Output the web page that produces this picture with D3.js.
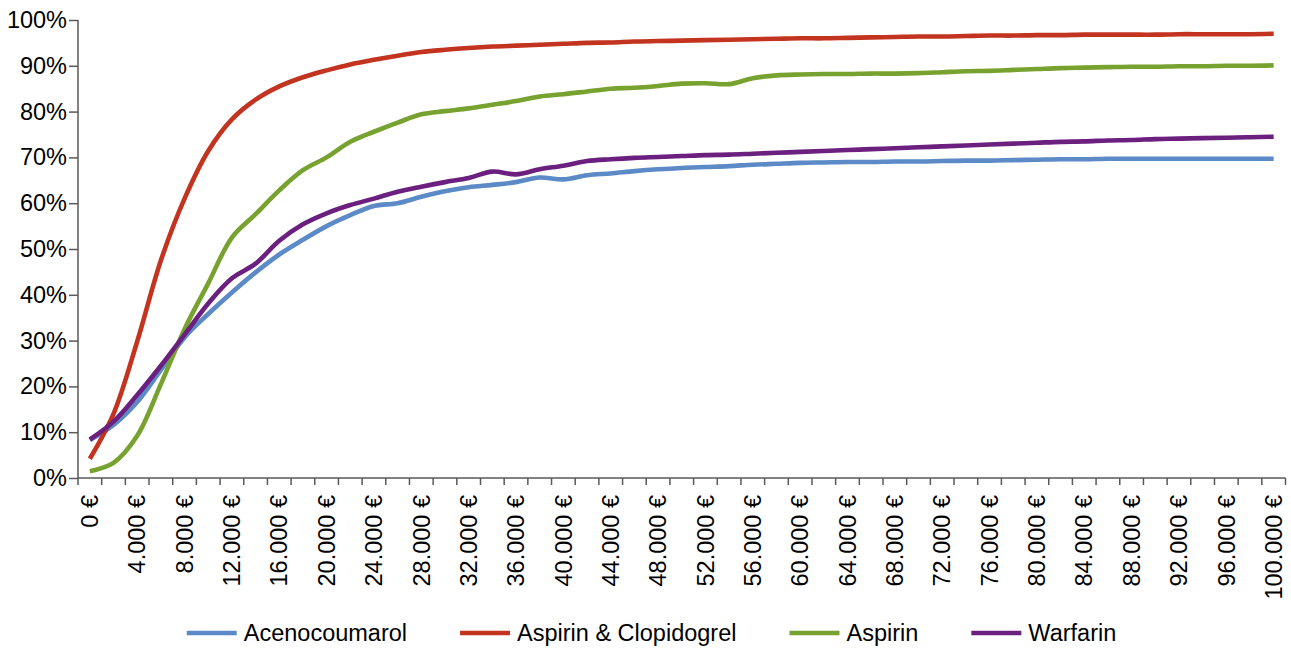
<!DOCTYPE html>
<html>
<head>
<meta charset="utf-8">
<script src="https://cdn.jsdelivr.net/npm/d3@7"></script>
<style>
  html, body { margin: 0; padding: 0; background: #fff; }
  svg { display: block; }
  text { font-family: "Liberation Sans", Arial, sans-serif; fill: #000; }
</style>
</head>
<body>
<svg id="chart" width="1291" height="648"></svg>
<script>
// ---- data ----
const categories = [0,2000,4000,6000,8000,10000,12000,14000,16000,18000,20000,22000,24000,26000,28000,30000,32000,34000,36000,38000,40000,42000,44000,46000,48000,50000,52000,54000,56000,58000,60000,62000,64000,66000,68000,70000,72000,74000,76000,78000,80000,82000,84000,86000,88000,90000,92000,94000,96000,98000,100000];

const seriesNames = ["Acenocoumarol", "Aspirin & Clopidogrel", "Aspirin", "Warfarin"];
const seriesColors = ["#5B8AC7", "#C2341F", "#78A22F", "#6B1F7E"];

const acenocoumarol = [8.3,11.6,16.6,23.6,30.7,35.8,40.5,44.9,48.8,52.0,55.0,57.4,59.4,60.0,61.4,62.6,63.5,64.0,64.6,65.6,65.2,66.1,66.5,67.0,67.4,67.7,67.9,68.1,68.4,68.6,68.8,68.9,69.0,69.0,69.1,69.1,69.2,69.3,69.3,69.4,69.5,69.6,69.6,69.7,69.7,69.7,69.7,69.7,69.7,69.7,69.7];
const aspirinClopidogrel = [4.2,14.0,29.8,47.5,61.0,71.4,78.3,82.6,85.5,87.5,89.0,90.3,91.3,92.2,93.0,93.5,93.9,94.2,94.4,94.6,94.8,95.0,95.1,95.3,95.4,95.5,95.6,95.7,95.8,95.9,96.0,96.0,96.1,96.2,96.3,96.4,96.4,96.5,96.6,96.6,96.7,96.7,96.8,96.8,96.8,96.8,96.9,96.9,96.9,96.9,97.0];
const aspirin = [1.5,3.3,9.2,20.5,32.5,42.5,52.5,57.6,62.8,67.2,70.0,73.4,75.6,77.6,79.4,80.1,80.7,81.5,82.3,83.3,83.8,84.4,85.0,85.2,85.6,86.1,86.2,86.0,87.3,87.9,88.1,88.2,88.2,88.3,88.3,88.4,88.6,88.8,88.9,89.1,89.3,89.5,89.6,89.7,89.8,89.8,89.9,89.9,90.0,90.0,90.1];
const warfarin = [8.4,12.3,18.1,24.5,31.3,38.1,43.6,46.8,51.8,55.4,57.8,59.6,61.0,62.5,63.6,64.6,65.5,66.9,66.3,67.4,68.2,69.2,69.6,69.9,70.1,70.3,70.5,70.6,70.8,71.0,71.2,71.4,71.6,71.8,72.0,72.2,72.4,72.6,72.8,73.0,73.2,73.4,73.5,73.7,73.8,74.0,74.1,74.2,74.3,74.4,74.5];

const yTicks = [0,10,20,30,40,50,60,70,80,90,100];

const seriesValues = [acenocoumarol, aspirinClopidogrel, aspirin, warfarin];

// ---- layout ----
const svg = d3.select("#chart");
const plotLeft = 78, plotRight = 1285.5, plotTop = 20, plotBottom = 478;
const fontSize = 23.5;
const axisColor = "#595959";
const lineW = 4.6;

const x = d3.scaleBand().domain(categories).range([plotLeft, plotRight]).padding(0);
const y = d3.scaleLinear().domain([0, 100]).range([plotBottom, plotTop]);

const locale = d3.formatLocale({decimal: ",", thousands: ".", grouping: [3], currency: ["", " €"]});
const fmtEuro = d => locale.format(",")(d) + " €";

// Y axis
const yAxis = svg.append("g")
  .attr("transform", `translate(${plotLeft},0)`)
  .call(d3.axisLeft(y).tickValues(yTicks).tickFormat(d => d + "%").tickSize(9).tickPadding(2));
yAxis.selectAll("text").attr("font-size", fontSize).attr("font-family", "Liberation Sans, Arial, sans-serif").attr("fill", "#000");
yAxis.selectAll("line").attr("stroke", axisColor).attr("stroke-width", 1.5);
yAxis.select(".domain").attr("stroke", axisColor).attr("stroke-width", 1.5).attr("d", `M0,${y(100)}V${y(0)}`);

// X axis: boundary ticks
const xg = svg.append("g");
xg.append("line")
  .attr("x1", plotLeft).attr("x2", plotRight).attr("y1", plotBottom).attr("y2", plotBottom)
  .attr("stroke", axisColor).attr("stroke-width", 1.5);
const boundaries = categories.map(c => x(c)).concat([x(categories[categories.length - 1]) + x.bandwidth()]);
xg.selectAll("line.tick").data(boundaries).enter().append("line")
  .attr("class", "tick")
  .attr("x1", d => d).attr("x2", d => d)
  .attr("y1", plotBottom).attr("y2", plotBottom + 7)
  .attr("stroke", axisColor).attr("stroke-width", 1.5);

// X labels (every other category)
xg.selectAll("text.xl").data(categories.filter((c, i) => i % 2 === 0)).enter().append("text")
  .attr("class", "xl")
  .attr("transform", d => `translate(${x(d) + x.bandwidth() / 2},${plotBottom + 17}) rotate(-90)`)
  .attr("text-anchor", "end")
  .attr("dy", "0.35em")
  .attr("font-size", fontSize)
  .text(d => fmtEuro(d));

// Lines
const line = d3.line()
  .x((d, i) => x(categories[i]) + x.bandwidth() / 2)
  .y(d => y(d))
  .curve(d3.curveCatmullRom.alpha(0.5));

svg.selectAll("path.series").data(seriesValues).enter().append("path")
  .attr("class", "series")
  .attr("d", d => line(d))
  .attr("fill", "none")
  .attr("stroke", (d, i) => seriesColors[i])
  .attr("stroke-width", lineW)
  .attr("stroke-linejoin", "round");

// Legend
const legend = svg.append("g");
const sampleW = 50, sampleGap = 7, itemGap = 53;
const items = legend.selectAll("g.item").data(seriesNames).enter().append("g").attr("class", "item");
items.append("line")
  .attr("x1", 0).attr("x2", sampleW).attr("y1", 0).attr("y2", 0)
  .attr("stroke", (d, i) => seriesColors[i]).attr("stroke-width", lineW);
items.append("text")
  .attr("x", sampleW + sampleGap).attr("dy", "0.35em")
  .attr("font-size", fontSize)
  .text(d => d);
let widths = [];
items.each(function() { widths.push(this.querySelector("text").getComputedTextLength()); });
const total = d3.sum(widths) + seriesNames.length * (sampleW + sampleGap) + (seriesNames.length - 1) * itemGap;
let cx = 651.5 - total / 2;
items.attr("transform", (d, i) => {
  const t = `translate(${cx},633)`;
  cx += sampleW + sampleGap + widths[i] + itemGap;
  return t;
});
</script>
</body>
</html>
